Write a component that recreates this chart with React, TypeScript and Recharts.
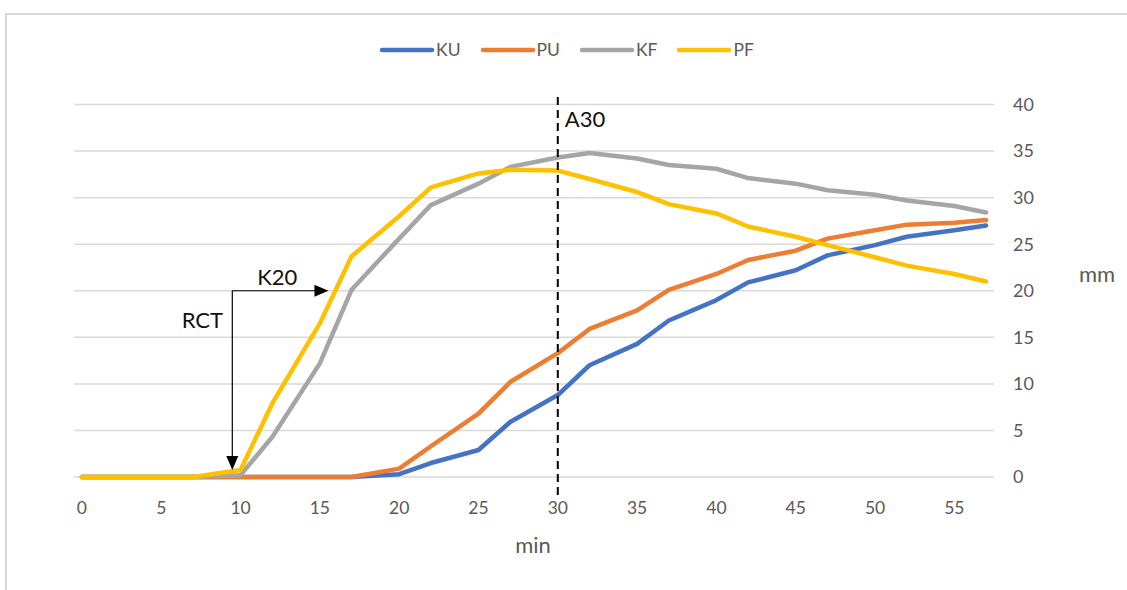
import { LineChart, Line, XAxis, YAxis, CartesianGrid, Legend, ReferenceLine } from "recharts";

// minutes (Excel date axis drops the .5 of each 2.5 min step)
const minutes = [0, 2, 5, 7, 10, 12, 15, 17, 20, 22, 25, 27, 30, 32, 35, 37, 40, 42, 45, 47, 50, 52, 55, 57];
const ku = [0, 0, 0, 0, 0, 0, 0, 0, 0.3, 1.5, 2.9, 5.9, 8.8, 12.0, 14.3, 16.8, 19.0, 20.9, 22.2, 23.8, 24.9, 25.8, 26.5, 27.0];
const pu = [0, 0, 0, 0, 0, 0, 0, 0, 0.9, 3.3, 6.8, 10.2, 13.3, 15.9, 17.9, 20.1, 21.8, 23.3, 24.3, 25.6, 26.5, 27.1, 27.3, 27.6];
const kf = [0, 0, 0, 0, 0.2, 4.3, 12.2, 20.1, 25.6, 29.2, 31.5, 33.3, 34.3, 34.8, 34.2, 33.5, 33.1, 32.1, 31.5, 30.8, 30.3, 29.7, 29.1, 28.4];
const pf = [0, 0, 0, 0, 0.75, 7.9, 16.5, 23.7, 28.0, 31.1, 32.6, 33.0, 32.9, 32.0, 30.6, 29.3, 28.3, 26.9, 25.8, 24.9, 23.6, 22.7, 21.8, 21.0];

const xTicks = [0, 5, 10, 15, 20, 25, 30, 35, 40, 45, 50, 55];
const yTicks = [0, 5, 10, 15, 20, 25, 30, 35, 40];

// annotation anchors in data units
const a30 = 30;
const rctX = 9.48;
const k20Level = 20;
const rctTip = 0.75;
const k20Tip = 15.54;

const data = minutes.map((t, i) => ({ t, KU: ku[i], PU: pu[i], KF: kf[i], PF: pf[i] }));

const series = [
  { key: "KU", color: "#4472C4" },
  { key: "PU", color: "#ED7D31" },
  { key: "KF", color: "#A5A5A5" },
  { key: "PF", color: "#FFC000" },
];

const FONT = "Lato, 'Open Sans', sans-serif";
const GREY = "#595959";

function renderLegend() {
  return (
    <div style={{ display: "flex", justifyContent: "center", paddingLeft: 18, fontFamily: FONT }}>
      {series.map((s) => (
        <div key={s.key} style={{ display: "flex", alignItems: "center", marginRight: 19 }}>
          <svg width={56} height={10}>
            <line x1={3} y1={5} x2={53} y2={5} stroke={s.color} strokeWidth={4.5} strokeLinecap="round" />
          </svg>
          <span style={{ fontSize: 17.5, color: GREY, marginLeft: 1 }}>{s.key}</span>
        </div>
      ))}
    </div>
  );
}

const arrowDown = (p: any) => {
  const { x1, y1, x2, y2 } = p;
  return (
    <g>
      <line x1={x1} y1={y1} x2={x2} y2={y2 - 12} stroke="#000" strokeWidth={1.2} />
      <polygon points={`${x2 - 6},${y2 - 14} ${x2 + 6},${y2 - 14} ${x2},${y2}`} fill="#000" />
      <text x={x1 - 30} y={y1 + 37} textAnchor="middle" fontSize={22} fontFamily={FONT} fill="#111">RCT</text>
    </g>
  );
};

const arrowRight = (p: any) => {
  const { x1, y1, x2, y2 } = p;
  return (
    <g>
      <line x1={x1} y1={y1} x2={x2 - 12} y2={y2} stroke="#000" strokeWidth={1.2} />
      <polygon points={`${x2 - 14},${y2 - 6} ${x2 - 14},${y2 + 6} ${x2},${y2}`} fill="#000" />
      <text x={x1 + 45} y={y1 - 6} textAnchor="middle" fontSize={22} fontFamily={FONT} fill="#111">K20</text>
    </g>
  );
};

const dashedA30 = (p: any) => {
  const { x1, y1, x2, y2 } = p;
  return (
    <g>
      <line x1={x1} y1={y1} x2={x2} y2={y2} stroke="#000" strokeWidth={2} strokeDasharray="8 5" />
      <text x={x1 + 7} y={Math.min(y1, y2) + 31} fontSize={22} fontFamily={FONT} fill="#111">A30</text>
    </g>
  );
};

export default function App() {
  return (
    <div
      style={{
        position: "absolute",
        left: 5,
        top: 13,
        width: 1120,
        height: 575,
        borderTop: "2px solid #d9d9d9",
        borderLeft: "2px solid #d9d9d9",
        fontFamily: FONT,
      }}
    >
      <LineChart width={1120} height={575} data={data} margin={{ top: 89.5, right: 73, bottom: 33, left: 67 }}>
        <CartesianGrid vertical={false} stroke="#d9d9d9" strokeWidth={1.5} />
        <XAxis
          dataKey="t"
          type="number"
          domain={[-0.5, 57.5]}
          ticks={xTicks}
          axisLine={false}
          tickLine={false}
          tickSize={0}
          tickMargin={25}
          height={80}
          tick={{ fontSize: 17.5, fill: GREY, fontFamily: FONT }}
          label={(props: any) => {
            const vb = props.viewBox;
            return (
              <text x={vb.x + vb.width / 2 - 1} y={vb.y + 76} textAnchor="middle" fontSize={22} fill={GREY} fontFamily={FONT}>
                min
              </text>
            );
          }}
        />
        <YAxis
          orientation="right"
          domain={[0, 40]}
          ticks={yTicks}
          axisLine={false}
          tickLine={false}
          tickSize={0}
          tickMargin={19}
          width={60}
          tick={{ fontSize: 18, fill: GREY, fontFamily: FONT, textAnchor: "start" }}
          label={(props: any) => {
            const vb = props.viewBox;
            return (
              <text x={1090} y={vb.y + vb.height / 2 - 9} textAnchor="middle" fontSize={22} fill={GREY} fontFamily={FONT}>
                mm
              </text>
            );
          }}
        />
        <Legend
          layout="horizontal"
          verticalAlign="middle"
          align="center"
          content={renderLegend}
          wrapperStyle={{ top: 24, left: 0, width: 1120 }}
        />
        {series.map((s) => (
          <Line
            key={s.key}
            type="linear"
            dataKey={s.key}
            stroke={s.color}
            strokeWidth={4.5}
            strokeLinejoin="round"
            strokeLinecap="round"
            dot={false}
            activeDot={false}
            isAnimationActive={false}
          />
        ))}
        <ReferenceLine
          segment={[{ x: a30, y: -1.93 }, { x: a30, y: 40.86 }]}
          ifOverflow="visible"
          shape={dashedA30}
        />
        <ReferenceLine
          segment={[{ x: rctX, y: k20Level }, { x: rctX, y: rctTip }]}
          ifOverflow="visible"
          shape={arrowDown}
        />
        <ReferenceLine
          segment={[{ x: rctX, y: k20Level }, { x: k20Tip, y: k20Level }]}
          ifOverflow="visible"
          shape={arrowRight}
        />
      </LineChart>
    </div>
  );
}
